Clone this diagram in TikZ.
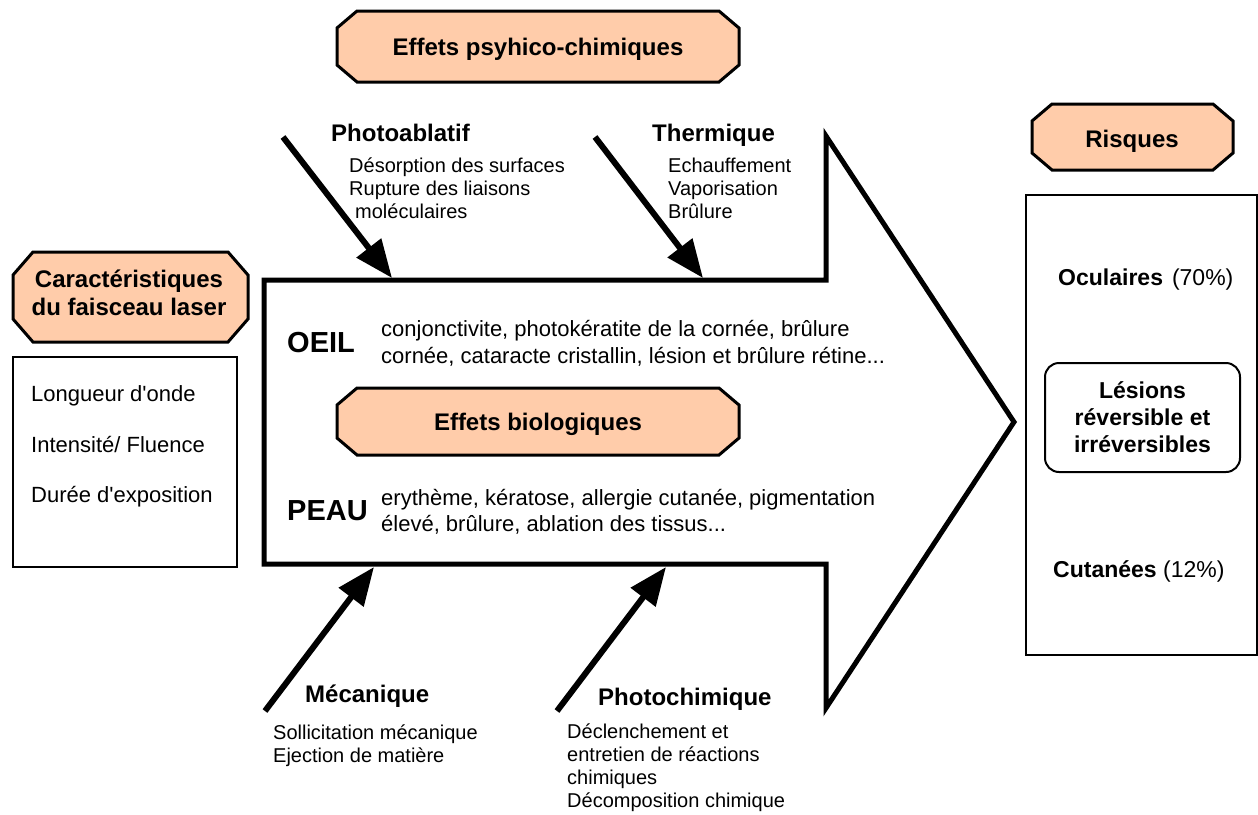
\documentclass[tikz,border=0pt]{standalone}
\usepackage{fontspec}
\setmainfont{Liberation Sans}
\usetikzlibrary{arrows.meta}
\definecolor{peach}{RGB}{255,204,170}
\newcommand{\octbox}[6]{%
  \draw[octa] ({#1+#5},#2) -- ({#3-#5},#2) -- (#3,{#2+#6}) -- (#3,{#4-#6}) -- ({#3-#5},#4) -- ({#1+#5},#4) -- (#1,{#4-#6}) -- (#1,{#2+#6}) -- cycle;}
\tikzset{
  octa/.style={draw=black, line width=3pt, fill=peach, line join=miter},
  head/.style={font=\fontsize{24}{28}\selectfont\bfseries, inner sep=0pt, anchor=base},
  headw/.style={head, anchor=base west},
  sub/.style={font=\fontsize{20}{23}\selectfont, inner sep=0pt, anchor=base west, align=left},
  mid/.style={font=\fontsize{22}{27}\selectfont, inner sep=0pt, anchor=base west, align=left},
  organ/.style={font=\fontsize{29}{34}\selectfont\bfseries, inner sep=0pt, anchor=base west},
  boxtxt/.style={font=\fontsize{22}{26}\selectfont, inner sep=0pt, anchor=base west},
  risk/.style={font=\fontsize{23}{27}\selectfont, inner sep=0pt, anchor=base west},
  plainbox/.style={draw=black, line width=2pt, inner sep=0pt},
  lesion/.style={draw=black, line width=2pt, rounded corners=14pt, inner sep=0pt,
    minimum width=195pt, minimum height=109pt, align=center,
    font=\fontsize{23}{27}\selectfont\bfseries},
  fatarrow/.style={line width=6pt, -{Triangle[length=38pt,width=30pt]}},
  bigarrow/.style={draw=black, line width=5pt, line join=miter, fill=white},
}
\begin{document}
\begin{tikzpicture}[x=1pt,y=-1pt]
\useasboundingbox (0,0) rectangle (1258,814);

% big arrow
\draw[bigarrow] (264,280) -- (826,280) -- (826,136) -- (1014,422) -- (826,708) -- (826,564) -- (264,564) -- cycle;

% connector end points
\coordinate (pa-s) at (283,137);  \coordinate (pa-e) at (392,278);
\coordinate (th-s) at (595,137);  \coordinate (th-e) at (703,278);
\coordinate (me-s) at (265,711);  \coordinate (me-e) at (374,567);
\coordinate (pc-s) at (557,711);  \coordinate (pc-e) at (666,567);
\draw[fatarrow] (pa-s) -- (pa-e);
\draw[fatarrow] (th-s) -- (th-e);
\draw[fatarrow] (me-s) -- (me-e);
\draw[fatarrow] (pc-s) -- (pc-e);

% top heading
\octbox{337}{11}{739}{82}{20}{17}
\node[head] (pchem) at (538,55) {Effets psyhico-chimiques};

\node[headw] (pabl) at (331,141) {Photoablatif};
\node[sub] (pabltxt) at (349,218.5) {Désorption des surfaces\\Rupture des liaisons\\\hspace*{6pt}moléculaires};
\node[headw] (therm) at (652,141) {Thermique};
\node[sub] (thermtxt) at (668,218.5) {Echauffement\\Vaporisation\\Brûlure};

% inside arrow
\node[organ] (oeil) at (287,352) {OEIL};
\node[mid] (oeiltxt) at (381,363) {conjonctivite, photokératite de la cornée, brûlure\\cornée, cataracte cristallin, lésion et brûlure rétine...};
\octbox{337}{388}{739}{455}{20}{17}
\node[head] (bio) at (538,430) {Effets biologiques};
\node[organ] (peau) at (287,520) {PEAU};
\node[mid, font=\fontsize{22}{26}\selectfont] (peautxt) at (381,531) {erythème, kératose, allergie cutanée, pigmentation\\élevé, brûlure, ablation des tissus...};

% bottom
\node[headw] (meca) at (305,702) {Mécanique};
\node[sub] (mecatxt) at (273,762) {Sollicitation mécanique\\Ejection de matière};
\node[headw] (phch) at (598,705) {Photochimique};
\node[sub] (phchtxt) at (567,807) {Déclenchement et\\entretien de réactions\\chimiques\\Décomposition chimique};

% left
\octbox{13}{252}{248}{342}{20}{23}
\node[head, align=center] (carac) at (129,315) {Caractéristiques\\du faisceau laser};
\node[plainbox, minimum width=224pt, minimum height=210pt] (lbox) at (125,462) {};
\node[boxtxt] (lo) at (31,401) {Longueur d\textquotesingle onde};
\node[boxtxt] (inten) at (31,452) {Intensité/ Fluence};
\node[boxtxt] (duree) at (31,502) {Durée d\textquotesingle exposition};

% right
\octbox{1032}{104}{1233}{170}{20}{17}
\node[head] (risq) at (1132,147) {Risques};
\node[plainbox, minimum width=231pt, minimum height=460pt] (rbox) at (1141.5,425) {};
\node[risk] (ocu) at (1058,285) {\textbf{Oculaires}\hspace{9pt}(70\%)};
\node[lesion] (les) at (1142.5,417.5) {Lésions\\réversible et\\irréversibles};
\node[risk] (cuta) at (1053,577) {\textbf{Cutanées} (12\%)};
\end{tikzpicture}
\end{document}
